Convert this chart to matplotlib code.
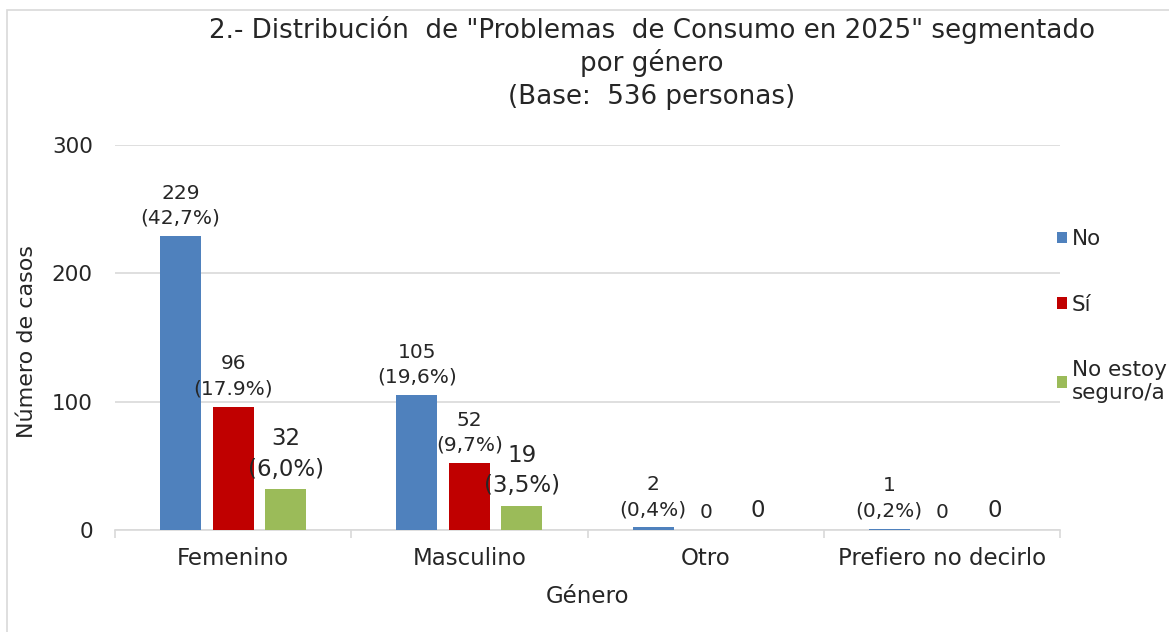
import matplotlib
matplotlib.use("Agg")
import matplotlib.pyplot as plt
from matplotlib.patches import Rectangle, Patch
import numpy as np

plt.rcParams['font.family'] = ['DejaVu Sans']

categories = ["Femenino", "Masculino", "Otro", "Prefiero no decirlo"]
series_names = ["No", "Sí", "No estoy\nseguro/a"]
vals_no = [229, 105, 2, 1]
vals_si = [96, 52, 0, 0]
vals_ns = [32, 19, 0, 0]
pct_no = ["42,7%", "19,6%", "0,4%", "0,2%"]
pct_si = ["17.9%", "9,7%", "", ""]
pct_ns = ["6,0%", "3,5%", "", ""]
yticks = [0, 100, 200, 300]

colors = ["#4F81BD", "#C00000", "#9BBB59"]
txt = "#262626"
W, H = 1169, 632

fig = plt.figure(figsize=(W / 100, H / 100), dpi=100)
ax = fig.add_axes([115 / W, 1 - 530 / H, (1060 - 115) / W, (530 - 145) / H])

# outer frame
fig.patches.append(Rectangle((7 / W, -0.1), 1.2, 1 - 10 / H + 0.1, transform=fig.transFigure,
                             fill=False, edgecolor="#d9d9d9", lw=1.2))

x = np.arange(len(categories))
bw = 0.174
off = 0.2225
series = [(vals_no, pct_no, 14.5, 1.4, 6), (vals_si, pct_si, 14.5, 1.4, 6),
          (vals_ns, pct_ns, 16.5, 1.4, 6)]
for i, (vals, pcts, fs, ls, dy) in enumerate(series):
    xs = x + (i - 1) * off
    ax.bar(xs, vals, width=bw, color=colors[i], zorder=3)
    for xi, v, p in zip(xs, vals, pcts):
        lab = f"{v}\n({p})" if v != 0 else f"{v}"
        ax.annotate(lab, (xi, v), xytext=(0, dy), textcoords="offset points",
                    ha="center", va="bottom", fontsize=fs, color=txt,
                    linespacing=ls, zorder=4)

ax.set_xlim(-0.5, len(categories) - 0.5)
ax.set_ylim(0, 300)
ax.set_yticks(yticks)
ax.set_yticklabels([str(t) for t in yticks], fontsize=15.5, color=txt)
ax.tick_params(axis="y", length=0, pad=16)
ax.grid(axis="y", color="#d9d9d9", lw=1.2, zorder=0)
ax.set_axisbelow(True)
for s in ["left", "right", "top"]:
    ax.spines[s].set_visible(False)
ax.spines["bottom"].set_color("#d9d9d9")
ax.spines["bottom"].set_linewidth(1.2)

ax.set_xticks(x)
ax.set_xticklabels(categories, fontsize=16.5, color=txt)
ax.tick_params(axis="x", which="major", length=0, pad=12)
ax.set_xticks(np.arange(-0.5, len(categories), 1.0), minor=True)
ax.tick_params(axis="x", which="minor", length=6, color="#d9d9d9", width=1.2, direction="out")

ax.set_xlabel("Género", fontsize=16.5, color=txt, labelpad=11)
ax.set_ylabel("Número de casos", fontsize=16, color=txt)
ax.yaxis.set_label_coords((37 - 115) / (1060 - 115), 0.49)

# title
tx = 652 / W
fs_t = 18.8
fig.text(tx, 1 - 30 / H, '2.- Distribución  de "Problemas  de Consumo en 2025" segmentado',
         ha="center", va="center", fontsize=fs_t, color=txt)
fig.text(tx, 1 - 63 / H, 'por género', ha="center", va="center", fontsize=fs_t, color=txt)
fig.text(tx, 1 - 97 / H, '(Base:  536 personas)', ha="center", va="center", fontsize=fs_t, color=txt)

# legend
handles = [Patch(facecolor=c, edgecolor="none") for c in colors]
fig.legend(handles, series_names, loc="upper left",
           bbox_to_anchor=(1057 / W, 1 - 229 / H), bbox_transform=fig.transFigure,
           frameon=False, fontsize=15.5, labelcolor=txt, borderpad=0, borderaxespad=0,
           handlelength=0.45, handleheight=0.45, handletextpad=0.25, labelspacing=2.12)

fig.savefig("out.png", dpi=100)
